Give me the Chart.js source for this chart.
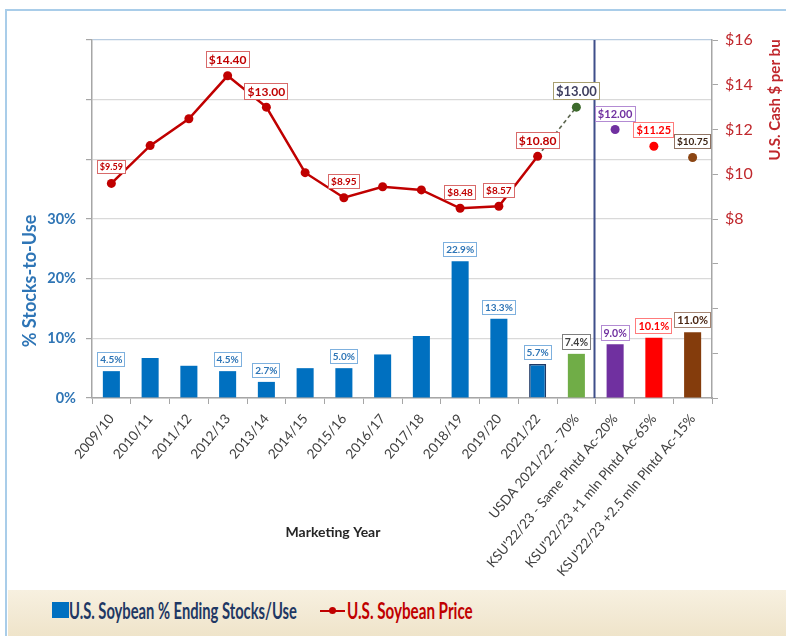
<!DOCTYPE html>
<html>
<head>
<meta charset="utf-8">
<script src="https://cdn.jsdelivr.net/npm/chart.js@4.4.1/dist/chart.umd.min.js"></script>
<style>
  html, body { margin:0; padding:0; background:#fff; width:786px; height:636px; overflow:hidden; font-family:Lato, "Open Sans", sans-serif; }
  #frame { position:absolute; left:5px; top:9px; width:800px; height:640px; border-left:2px solid #A9CDE9; border-top:2px solid #A9CDE9; }
  #wrap { position:absolute; left:0; top:0; width:786px; height:636px; }
  #legend { position:absolute; left:8px; top:590px; width:778px; height:46px; background:linear-gradient(#F7F0E0, #EFE4CA); }
  .lg { position:absolute; top:6px; font-weight:bold; font-size:23px; line-height:28px; white-space:nowrap; transform-origin:left center; }
  #sq { position:absolute; left:44px; top:12px; width:17px; height:16px; background:#0070C0; }
  #mk { position:absolute; left:312px; top:20px; width:25px; height:2px; background:#C00000; }
  #dot { position:absolute; left:321px; top:17px; width:7px; height:7px; border-radius:50%; background:#C00000; }
</style>
</head>
<body>
<div id="frame"></div>
<div id="wrap"><canvas id="c" width="786" height="636"></canvas></div>
<div id="legend">
  <div id="sq"></div>
  <div class="lg" id="lg1" style="left:61px;color:#1F3864">U.S. Soybean % Ending Stocks/Use</div>
  <div id="mk"></div><div id="dot"></div>
  <div class="lg" id="lg2" style="left:339px;color:#C00000">U.S. Soybean Price</div>
</div>
<script>
// marketing years (2020/21 is not shown in the original)
const years = ["2009/10","2010/11","2011/12","2012/13","2013/14","2014/15","2015/16","2016/17","2017/18","2018/19","2019/20","2021/22",
  "USDA 2021/22 - 70%","KSU'22/23 - Same Plntd Ac-20%","KSU'22/23 +1 mln Plntd Ac-65%","KSU'22/23 +2.5 mln Plntd Ac-15%"];

// % ending stocks / use
const stocksToUse = [4.5, 6.7, 5.4, 4.5, 2.7, 5.0, 5.0, 7.3, 10.4, 22.9, 13.3, 5.7, 7.4, 9.0, 10.1, 11.0];
const stockLabels = ["4.5%", null, null, "4.5%", "2.7%", null, "5.0%", null, null, "22.9%", "13.3%", "5.7%", "7.4%", "9.0%", "10.1%", "11.0%"];

// soybean price $/bu
const price = [9.59, 11.28, 12.48, 14.40, 13.00, 10.07, 8.95, 9.44, 9.30, 8.48, 8.57, 10.80, 13.00, 12.00, 11.25, 10.75];
const priceLabels = ["$9.59", null, null, "$14.40", "$13.00", null, "$8.95", null, null, "$8.48", "$8.57", "$10.80", "$13.00", "$12.00", "$11.25", "$10.75"];

const leftTickLabels = [0, 10, 20, 30];      // only these carry a label
const rightTickLabels = [8, 10, 12, 14, 16];

const BLUE = "#0070C0", RED = "#C00000";
const barColors = years.map((y, i) => i < 12 ? BLUE : ["#70AD47", "#7030A0", "#FF0000", "#843C0C"][i - 12]);
const barBorders = years.map((y, i) => i === 11 ? "#1F3864" : barColors[i]);
const pointColors = years.map((y, i) => i < 12 ? RED : ["#3D6B2C", "#7030A0", "#FF0000", "#8B4513"][i - 12]);

const blueTag = { size: 10, color: "#2E75B6", border: "#7DB0DE" };
const barTagStyle = years.map((y, i) => i < 12 ? blueTag : [
  { size: 10.5, color: "#404040", border: "#7F7F7F" },
  { size: 10.5, color: "#7030A0", border: "#B38BD3" },
  { size: 11, color: "#FF0000", border: "#FF7B7B" },
  { size: 11, color: "#4A2511", border: "#A58674" }][i - 12]);

const priceTagStyle = years.map((y, i) => {
  if (i === 0) return { size: 9, color: RED, border: "#D86A6A" };
  if (i === 6 || i === 9 || i === 10) return { size: 10, color: RED, border: "#D86A6A" };
  if (i === 12) return { size: 13, color: "#3F3F5F", border: "#A89F70" };
  if (i === 13) return { size: 11, color: "#7030A0", border: "#B38BD3" };
  if (i === 14) return { size: 11, color: "#FF0000", border: "#FF7B7B" };
  if (i === 15) return { size: 10, color: "#3C2415", border: "#8E7262" };
  return { size: 12, color: RED, border: "#D86A6A" };
});

function drawTag(ctx, text, cx, cy, st){
  ctx.font = "bold " + st.size + "px Lato, 'Open Sans', sans-serif";
  const w = Math.round(ctx.measureText(text).width + 6);
  const h = Math.round(st.size + 5);
  const x = Math.round(cx - w / 2), y = Math.round(cy - h / 2);
  ctx.fillStyle = "#fff";
  ctx.fillRect(x, y, w, h);
  ctx.strokeStyle = st.border;
  ctx.lineWidth = 1;
  ctx.strokeRect(x + 0.5, y + 0.5, w - 1, h - 1);
  ctx.fillStyle = st.color;
  ctx.textAlign = "center";
  ctx.textBaseline = "middle";
  ctx.fillText(text, cx, y + h / 2 + 0.5);
}

const extras = {
  id: "extras",
  beforeDatasetsDraw(chart){
    // divider between USDA and KSU projections
    const ctx = chart.ctx, x = chart.scales.x, a = chart.chartArea;
    const px = Math.round(x.getPixelForValue(12.45)) + 0.5;
    ctx.save();
    ctx.strokeStyle = "#3F4F8A";
    ctx.lineWidth = 2;
    ctx.beginPath(); ctx.moveTo(px, a.top); ctx.lineTo(px, a.bottom); ctx.stroke();
    ctx.restore();
  },
  afterDatasetsDraw(chart){
    const ctx = chart.ctx;
    ctx.save();
    const bars = chart.getDatasetMeta(0).data;
    stockLabels.forEach((t, i) => {
      if (!t) return;
      const st = barTagStyle[i];
      drawTag(ctx, t, bars[i].x, bars[i].y - 4 - (st.size + 5) / 2, st);
    });
    const pts = chart.getDatasetMeta(1).data;
    priceLabels.forEach((t, i) => {
      if (!t) return;
      drawTag(ctx, t, pts[i].x, pts[i].y - 16, priceTagStyle[i]);
    });

    // axis titles
    ctx.textAlign = "center";
    ctx.textBaseline = "middle";
    ctx.save();
    ctx.translate(30, 281); ctx.rotate(-Math.PI / 2);
    ctx.fillStyle = "#2E75B6";
    ctx.font = "bold 18px Lato, 'Open Sans', sans-serif";
    ctx.fillText("% Stocks-to-Use", 0, 0);
    ctx.restore();
    ctx.save();
    ctx.translate(775, 100); ctx.rotate(-Math.PI / 2);
    ctx.fillStyle = "#C0282D";
    ctx.font = "bold 15px Lato, 'Open Sans', sans-serif";
    ctx.fillText("U.S. Cash $ per bu", 0, 0);
    ctx.restore();
    ctx.fillStyle = "#262626";
    ctx.font = "bold 14px Lato, 'Open Sans', sans-serif";
    ctx.fillText("Marketing Year", 333, 532);
    ctx.restore();
  }
};

new Chart(document.getElementById("c"), {
  type: "bar",
  data: {
    labels: years,
    datasets: [
      {
        label: "U.S. Soybean % Ending Stocks/Use",
        data: stocksToUse,
        yAxisID: "y",
        backgroundColor: barColors,
        borderColor: barBorders,
        borderWidth: years.map((y, i) => i === 11 ? 1.5 : 0),
        barPercentage: 0.44,
        categoryPercentage: 1,
        order: 2
      },
      {
        type: "line",
        label: "U.S. Soybean Price",
        data: price,
        yAxisID: "y2",
        borderColor: RED,
        borderWidth: 2.5,
        pointRadius: 4.5,
        pointBorderWidth: 0,
        pointBackgroundColor: pointColors,
        pointBorderColor: pointColors,
        tension: 0,
        order: 1,
        segment: {
          borderColor: c => c.p0DataIndex >= 12 ? "rgba(0,0,0,0)" : c.p0DataIndex === 11 ? "#5C6650" : RED,
          borderDash: c => c.p0DataIndex === 11 ? [4, 3] : undefined,
          borderWidth: c => c.p0DataIndex === 11 ? 1.6 : 2.5
        }
      }
    ]
  },
  options: {
    responsive: false,
    animation: false,
    layout: { padding: { top: 40, left: 0, right: 0, bottom: 0 } },
    plugins: { legend: { display: false }, tooltip: { enabled: false } },
    scales: {
      x: {
        afterFit: s => { s.height = 238; },
        grid: { drawOnChartArea: false, offset: true, color: "#A6A6A6", tickLength: 6, tickColor: "#A6A6A6" },
        border: { color: "#A6A6A6", width: 1.5 },
        ticks: {
          autoSkip: false, minRotation: 50, maxRotation: 50, padding: 7,
          color: "#404040", font: { family: "Lato, 'Open Sans', sans-serif", size: 13.5 }
        }
      },
      y: {
        position: "left",
        min: 0, max: 60,
        afterFit: s => { s.width = 92; },
        grid: {
          color: c => c.tick.value === 60 ? "#B9CCE0" : "#D9D9D9",
          lineWidth: 1.2, tickLength: 6, tickColor: "#A6A6A6"
        },
        border: { color: "#A6A6A6", width: 1.5 },
        ticks: {
          stepSize: 10, padding: 10, color: "#2F75B5",
          font: { family: "Lato, 'Open Sans', sans-serif", size: 14.5, weight: "bold" },
          callback: v => leftTickLabels.includes(v) ? v + "%" : ""
        }
      },
      y2: {
        position: "right",
        min: 0, max: 16,
        afterFit: s => { s.width = 74; },
        grid: { drawOnChartArea: false, tickLength: 6, tickColor: "#A6A6A6" },
        border: { color: "#A6A6A6", width: 1.5 },
        ticks: {
          stepSize: 2, padding: 7, color: "#C0282D",
          font: { family: "Lato, 'Open Sans', sans-serif", size: 16 },
          callback: v => rightTickLabels.includes(v) ? "$" + v : ""
        }
      }
    }
  },
  plugins: [extras]
});

// squeeze legend text to the narrow width of the original face
[["lg1", 228], ["lg2", 126]].forEach(([id, w]) => {
  const el = document.getElementById(id);
  el.style.transform = "scaleX(" + (w / el.offsetWidth) + ")";
});
</script>
</body>
</html>
